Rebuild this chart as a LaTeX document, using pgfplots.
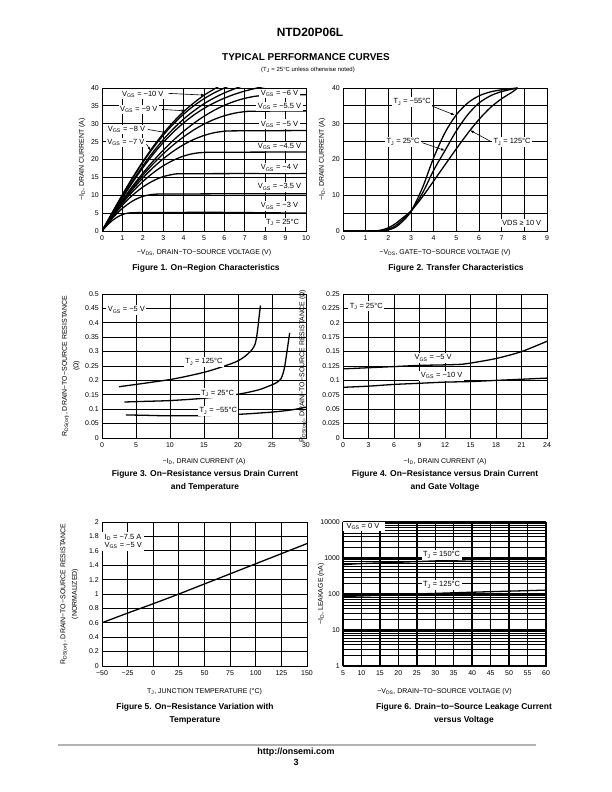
\documentclass[border=0pt]{standalone}
\usepackage{fontspec}
\setmainfont{Liberation Sans}
\usepackage{pgfplots}
\pgfplotsset{compat=1.18}
\usetikzlibrary{arrows.meta}
\newcommand{\sub}[1]{\textsubscript{#1}}
\newcommand{\sz}{\fontsize{7}{8}\selectfont}
\newcommand{\lz}{\fontsize{7.5}{8.5}\selectfont}
\pgfplotsset{
  ds/.style={
    scale only axis, anchor=south west,
    axis line style={black, line width=0.9pt},
    grid=major,
    major grid style={black, line width=0.85pt},
    minor grid style={black, line width=0.85pt},
    tick style={draw=none},
    tick label style={font=\sz, inner sep=1pt},
    xticklabel style={yshift=-3bp, text height=5pt, text depth=0pt},
    yticklabel style={xshift=-2bp},
    label style={font=\sz},
    every axis x label/.style={anchor=center, font=\sz},
    every axis y label/.style={anchor=center, rotate=90, font=\sz, align=center},
    cycle list={{black, solid}},
    every axis plot post/.append style={black, solid, line width=1.3pt, smooth, no marks},
  },
}
\tikzset{arr/.style={-{Latex[length=4pt,width=2.6pt]}, line width=0.6pt},
  lbl/.style={fill=white, inner sep=1.5pt, font=\lz}}
\begin{document}
\begin{tikzpicture}
\fill[white] (0,0) rectangle (612bp,792bp);
\useasboundingbox (0,0) rectangle (612bp,792bp);

\node[font=\fontsize{12}{14}\bfseries\selectfont] at (310bp,760bp) {NTD20P06L};
\node[font=\fontsize{10}{12}\bfseries\selectfont] at (306bp,735bp) {TYPICAL PERFORMANCE CURVES};
\node[font=\fontsize{6}{7}\selectfont] at (308bp,722bp) {(T\sub{J} = 25°C unless otherwise noted)};

% ---------- Figure 1 ----------
\begin{axis}[ds, at={(102bp,561bp)}, width=204bp, height=143bp,
  xmin=0, xmax=10, ymin=0, ymax=40,
  xtick={0,1,...,10}, ytick={0,5,...,40},
  xticklabels={0,1,2,3,4,5,6,7,8,9,10},
  yticklabels={0,5,10,15,20,25,30,35,40},
  xlabel={−V\sub{DS}, DRAIN−TO−SOURCE VOLTAGE (V)},
  ylabel={−I\sub{D}, DRAIN CURRENT (A)},
  xlabel style={at={(axis description cs:0.5,-0.154)}},
  ylabel style={at={(axis description cs:-0.098,0.5)}}]
\addplot coordinates {(0,0)(0.25,1.59)(0.5,2.9)(0.75,3.89)(1,4.6)(1.25,4.99)(1.5,5.1)(2,5.15)(4,5.2)(6,5.2)(8,5.1)(10,5.0)};
\addplot coordinates {(0,0)(0.5,3.53)(1,6.33)(1.5,8.38)(2,9.69)(2.64,10.3)(4,10.35)(6,10.4)(10,10.4)};
\addplot coordinates {(0,0)(0.5,3.88)(1,7.22)(1.5,10.02)(2,12.29)(2.5,14.01)(3,15.2)(3.5,15.86)(3.86,16)(6,16.05)(10,16.1)};
\addplot coordinates {(0,0)(0.5,4.09)(1,7.75)(1.5,11.0)(2,13.83)(2.5,16.24)(3,18.23)(3.5,19.8)(4,20.95)(4.5,21.68)(5.12,22)(7,22.05)(10,22.1)};
\addplot coordinates {(0,0)(0.5,4.23)(1,8.11)(1.5,11.65)(2,14.84)(2.5,17.69)(3,20.19)(3.5,22.34)(4,24.15)(4.5,25.61)(5,26.72)(5.5,27.49)(6,27.91)(6.36,28)(8,28.05)(10,28.1)};
\addplot coordinates {(0,0)(0.5,4.35)(1,8.4)(1.5,12.15)(2,15.59)(2.5,18.73)(3,21.57)(3.5,24.11)(4,26.34)(4.5,28.27)(5,29.9)(5.5,31.22)(6,32.24)(6.5,32.96)(7,33.38)(7.44,33.5)(10,33.6)};
\addplot coordinates {(0,0)(0.5,4.46)(1,8.64)(1.5,12.55)(2,16.18)(2.5,19.52)(3,22.59)(3.5,25.38)(4,27.89)(4.5,30.13)(5,32.08)(5.5,33.76)(6,35.16)(6.5,36.27)(7,37.11)(7.5,37.68)(8,37.96)(8.26,38)(10,38.1)};
\addplot coordinates {(0,0)(0.5,4.68)(1,9.25)(1.5,13.6)(2,17.67)(2.5,21.39)(3,24.73)(3.5,27.68)(4,30.23)(4.5,32.43)(5,34.3)(5.5,35.86)(6,37.16)(6.5,38.25)(7,39.14)(7.6,40)(8,40.5)};
\addplot coordinates {(0,0)(0.5,4.81)(1,9.51)(1.5,14.0)(2,18.21)(2.5,22.07)(3,25.54)(3.5,28.61)(4,31.3)(4.5,33.59)(5,35.6)(5.5,37.23)(6,38.63)(6.6,40)(7,40.8)};
\addplot coordinates {(0,0)(0.5,5.08)(1,10.04)(1.5,14.77)(2,19.17)(2.5,23.19)(3,26.78)(3.5,29.93)(4,32.66)(4.5,35.01)(5,37.0)(5.5,38.64)(6,40.0)(6.5,41.2)};
\addplot coordinates {(0,0)(0.5,5.13)(1,10.15)(1.5,14.94)(2,19.42)(2.5,23.54)(3,27.24)(3.5,30.52)(4,33.39)(4.5,35.83)(5,37.97)(5.5,39.71)(6,41.3)};
\node[lbl] at (axis cs:8.7,38.5) {V\sub{GS} = −6 V};
\node[lbl] at (axis cs:8.7,34.9) {V\sub{GS} = −5.5 V};
\node[lbl] at (axis cs:8.7,29.9) {V\sub{GS} = −5 V};
\node[lbl] at (axis cs:8.7,23.6) {V\sub{GS} = −4.5 V};
\node[lbl] at (axis cs:8.7,17.6) {V\sub{GS} = −4 V};
\node[lbl] at (axis cs:8.7,12.3) {V\sub{GS} = −3.5 V};
\node[lbl] at (axis cs:8.7,7.0) {V\sub{GS} = −3 V};
\node[lbl] at (axis cs:8.85,2.4) {T\sub{J} = 25°C};
\node[lbl] at (axis cs:2.0,38.3) {V\sub{GS} = −10 V};
\node[lbl] at (axis cs:1.8,34.0) {V\sub{GS} = −9 V};
\node[lbl] at (axis cs:1.2,28.4) {V\sub{GS} = −8 V};
\node[lbl] at (axis cs:1.17,24.7) {V\sub{GS} = −7 V};
\draw[arr] (axis cs:3.25,38.5) -- (axis cs:5.05,38.0);
\draw[arr] (axis cs:2.95,34.0) -- (axis cs:4.1,33.6);
\draw[arr] (axis cs:2.25,28.4) -- (axis cs:3.17,27.5);
\draw[arr] (axis cs:2.18,24.3) -- (axis cs:2.4,22.4);
\end{axis}
\node[font=\fontsize{8.5}{10}\bfseries\selectfont] at (206bp,524bp) {Figure 1. On−Region Characteristics};

% ---------- Figure 2 ----------
\begin{axis}[ds, at={(343bp,561bp)}, width=204bp, height=143bp,
  xmin=0, xmax=9, ymin=0, ymax=40, grid=both,
  xtick={0,1,...,9}, ytick={0,10,20,30,40}, minor ytick={5,15,25,35},
  xticklabels={0,1,2,3,4,5,6,7,8,9},
  yticklabels={0,10,20,30,40},
  xlabel={−V\sub{DS}, GATE−TO−SOURCE VOLTAGE (V)},
  ylabel={−I\sub{D}, DRAIN CURRENT (A)},
  xlabel style={at={(axis description cs:0.5,-0.154)}},
  ylabel style={at={(axis description cs:-0.103,0.5)}}]
\addplot coordinates {(0,0)(1,0)(1.7,0.05)(2,0.3)(2.3,1.0)(2.6,2.5)(3,5.5)(3.5,12)(4,20.5)(4.5,27.5)(5,32.5)(5.5,35.8)(6,37.8)(6.5,38.9)(7,39.5)(7.7,40)};
\addplot coordinates {(0,0)(1,0)(1.7,0.1)(2,0.5)(2.3,1.4)(2.6,3)(3,5.5)(3.5,10.5)(4,17)(4.5,22.5)(5,28)(5.5,32.5)(6,35.8)(6.5,37.8)(7,39)(7.7,40)};
\addplot coordinates {(0,0)(1,0.02)(1.6,0.15)(2,0.9)(2.3,2)(2.6,3.5)(3,5.6)(3.5,9.5)(4,14)(4.5,18.5)(5,23)(5.5,27.3)(6,31.2)(6.5,34.5)(7,37)(7.5,39)(7.7,40)};
\node[lbl] at (axis cs:3.05,36.1) {T\sub{J} = −55°C};
\node[lbl] at (axis cs:2.65,24.9) {T\sub{J} = 25°C};
\node[lbl] at (axis cs:7.46,24.9) {T\sub{J} = 125°C};
\node[lbl, anchor=east] at (axis cs:8.82,2.3) {VDS ≥ 10 V};
\draw[arr] (axis cs:3.95,34.9) -- (axis cs:4.94,32.4);
\draw[arr] (axis cs:3.5,24.7) -- (axis cs:4.5,22.5);
\draw[arr] (axis cs:6.5,25.1) -- (axis cs:5.6,28.2);
\end{axis}
\node[font=\fontsize{8.5}{10}\bfseries\selectfont] at (456bp,524bp) {Figure 2. Transfer Characteristics};

% ---------- Figure 3 ----------
\begin{axis}[ds, at={(102bp,354bp)}, width=204bp, height=144bp,
  xmin=0, xmax=30, ymin=0, ymax=0.5,
  xtick={0,5,...,30}, ytick={0,0.05,...,0.5},
  xticklabels={0,5,10,15,20,25,30},
  yticklabels={0,0.05,0.1,0.15,0.2,0.25,0.3,0.35,0.4,0.45,0.5},
  xlabel={−I\sub{D}, DRAIN CURRENT (A)},
  ylabel={R\sub{DS(on)}, DRAIN−TO−SOURCE RESISTANCE\\[3.5pt](Ω)},
  xlabel style={at={(axis description cs:0.5,-0.167)}},
  ylabel style={at={(axis description cs:-0.152,0.5)}}]
\addplot coordinates {(2.5,0.178)(5,0.186)(8,0.196)(10,0.203)(12,0.212)(15,0.228)(17,0.242)(19,0.258)(20,0.268)(21,0.283)(22,0.305)(22.5,0.325)(22.8,0.36)(23.1,0.42)(23.3,0.46)};
\addplot coordinates {(3.3,0.125)(6,0.127)(10,0.13)(15,0.138)(20,0.152)(23,0.167)(24.5,0.18)(25.5,0.19)(26.3,0.205)(26.8,0.24)(27.2,0.3)(27.6,0.365)};
\addplot coordinates {(3.5,0.08)(6,0.079)(10,0.077)(15,0.078)(20,0.082)(25,0.09)(28,0.098)(30,0.107)};
\node[lbl, anchor=west] at (axis cs:0.6,0.445) {V\sub{GS} = −5 V};
\node[lbl] at (axis cs:15.0,0.264) {T\sub{J} = 125°C};
\node[lbl] at (axis cs:17.0,0.156) {T\sub{J} = 25°C};
\node[lbl] at (axis cs:17.1,0.094) {T\sub{J} = −55°C};
\end{axis}
\node[font=\fontsize{8.5}{13}\bfseries\selectfont, align=center] at (205bp,311.5bp) {Figure 3. On−Resistance versus Drain Current\\and Temperature};

% ---------- Figure 4 ----------
\begin{axis}[ds, at={(343bp,354bp)}, width=204bp, height=144bp,
  xmin=0, xmax=24, ymin=0, ymax=0.25,
  xtick={0,3,...,24}, ytick={0,0.025,...,0.25},
  xticklabels={0,3,6,9,12,15,18,21,24},
  yticklabels={0,0.025,0.05,0.075,0.1,0.125,0.15,0.175,0.2,0.225,0.25},
  xlabel={−I\sub{D}, DRAIN CURRENT (A)},
  ylabel={R\sub{DS(on)}, DRAIN−TO−SOURCE RESISTANCE (Ω)},
  xlabel style={at={(axis description cs:0.5,-0.167)}},
  ylabel style={at={(axis description cs:-0.196,0.5)}}]
\addplot coordinates {(0,0.12)(3,0.122)(6,0.124)(9,0.126)(12,0.127)(14,0.128)(15,0.13)(18,0.138)(21,0.15)(24,0.168)};
\addplot coordinates {(0,0.088)(3,0.09)(6,0.093)(9,0.095)(12,0.097)(15,0.098)(18,0.1)(21,0.102)(24,0.104)};
\node[lbl, anchor=west] at (axis cs:0.6,0.229) {T\sub{J} = 25°C};
\node[lbl] at (axis cs:10.6,0.139) {V\sub{GS} = −5 V};
\node[lbl] at (axis cs:11.6,0.108) {V\sub{GS} = −10 V};
\end{axis}
\node[font=\fontsize{8.5}{13}\bfseries\selectfont, align=center] at (445bp,311.5bp) {Figure 4. On−Resistance versus Drain Current\\and Gate Voltage};

% ---------- Figure 5 ----------
\begin{axis}[ds, at={(102bp,126bp)}, width=205bp, height=144bp,
  xmin=-50, xmax=150, ymin=0, ymax=2,
  xtick={-50,-25,...,150}, ytick={0,0.2,...,2},
  xticklabels={−50,−25,0,25,50,75,100,125,150},
  yticklabels={0,0.2,0.4,0.6,0.8,1,1.2,1.4,1.6,1.8,2},
  xlabel={T\sub{J}, JUNCTION TEMPERATURE (°C)},
  ylabel={R\sub{DS(on)}, DRAIN−TO−SOURCE RESISTANCE\\[3.5pt](NORMALIZED)},
  xlabel style={at={(axis description cs:0.5,-0.181)}},
  ylabel style={at={(axis description cs:-0.159,0.5)}}]
\addplot coordinates {(-50,0.6)(-25,0.735)(0,0.865)(25,1.0)(50,1.14)(75,1.28)(100,1.42)(125,1.56)(150,1.7)};
\node[lbl, anchor=north west, align=left, inner sep=2.5pt] at (axis cs:-50,1.87) {I\sub{D} = −7.5 A\\V\sub{GS} = −5 V};
\end{axis}
\node[font=\fontsize{8.5}{13}\bfseries\selectfont, align=center] at (195bp,78.5bp) {Figure 5. On−Resistance Variation with\\Temperature};

% ---------- Figure 6 ----------
\begin{axis}[ds, at={(343bp,126bp)}, width=203bp, height=144bp,
  ymode=log, xmin=5, xmax=60, ymin=1, ymax=10000, grid=both,
  major grid style={black, line width=1.4pt},
  minor grid style={black, line width=0.6pt},
  xtick={5,10,...,60}, ytick={1,10,100,1000,10000},
  xticklabels={5,10,15,20,25,30,35,40,45,50,55,60},
  yticklabels={1,10,100,1000,10000},
  xlabel={−V\sub{DS}, DRAIN−TO−SOURCE VOLTAGE (V)},
  ylabel={−I\sub{D}, LEAKAGE (nA)},
  xlabel style={at={(axis description cs:0.5,-0.181)}},
  ylabel style={at={(axis description cs:-0.108,0.5)}}]
\addplot coordinates {(5,650)(10,700)(20,760)(30,830)(40,900)(50,950)(60,1000)};
\addplot coordinates {(5,85)(15,92)(25,100)(35,108)(45,116)(60,128)};
\node[lbl, minimum width=45bp] at (axis cs:10.4,7400) {V\sub{GS} = 0 V};
\node[lbl] at (axis cs:31.7,1211) {T\sub{J} = 150°C};
\node[lbl] at (axis cs:31.7,178) {T\sub{J} = 125°C};
\end{axis}
\node[font=\fontsize{8.5}{13}\bfseries\selectfont, align=center] at (464bp,78.5bp) {Figure 6. Drain−to−Source Leakage Current\\versus Voltage};

% ---------- footer ----------
\draw[black!30, line width=1.5bp] (58bp,47bp) -- (536bp,47bp);
\node[font=\fontsize{9}{10}\bfseries\selectfont] at (296bp,40bp) {http://onsemi.com};
\node[font=\fontsize{9}{10}\bfseries\selectfont] at (296bp,30bp) {3};
\end{tikzpicture}
\end{document}
